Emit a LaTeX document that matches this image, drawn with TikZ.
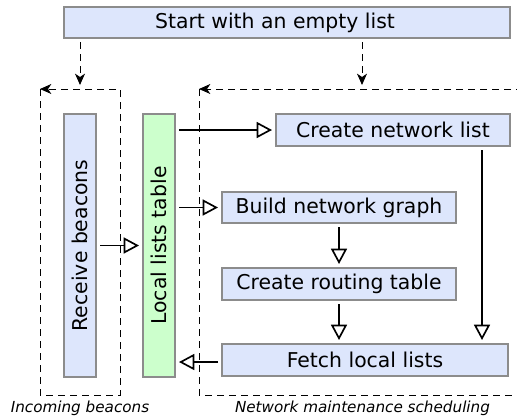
\documentclass[tikz,border=0pt]{standalone}
\usepackage{fontspec}
\setmainfont{DejaVu Sans}
\usetikzlibrary{arrows.meta,calc}
\definecolor{boxblue}{HTML}{DDE6FC}
\definecolor{boxgreen}{HTML}{CCFFCC}
\definecolor{boxborder}{HTML}{8C8C8C}
\begin{document}
\begin{tikzpicture}[x=0.75pt,y=-0.75pt,
  box/.style={draw=boxborder,line width=0.8pt,fill=boxblue,inner sep=0pt,outer sep=3pt,
    font=\fontsize{15.3}{18}\selectfont,text=black},
  gbox/.style={box,fill=boxgreen},
  flow/.style={line width=1.25pt,-{Triangle[open,length=11.5pt,width=12pt]}},
  dflow/.style={line width=0.75pt,dash pattern=on 5pt off 4pt,-{Stealth[length=8.5pt,width=7.5pt,inset=2.5pt]}},
  grp/.style={line width=0.75pt,dash pattern=on 5pt off 4pt,-{Stealth[length=8.5pt,width=7.5pt,inset=2.5pt]}},
  lbl/.style={font=\fontsize{11.4}{13}\selectfont\itshape,text=black}]
\useasboundingbox (0,0) rectangle (517,419);
% group frames
\coordinate (ltl) at (40,89);
\coordinate (ltr) at (120,89);
\coordinate (lbl) at (40,395);
\coordinate (lbr) at (120,395);
\coordinate (rtl) at (199,89);
\coordinate (rtr) at (535,89);
\coordinate (rbl) at (199,395);
\coordinate (rbr) at (535,395);
\coordinate (rmid) at (362,89);
\draw[grp] (ltl) -- (lbl) -- (lbr) -- (ltr) -- (ltl);
\draw[grp] (rtl) -- (rbl) -- (rbr) -- (rtr) -- (rtl);
% boxes
\node[box,minimum width=446*0.75pt,minimum height=31*0.75pt] (top) at (287,22.5) {\hspace*{-18pt}Start with an empty list};
\node[box,minimum width=32*0.75pt,minimum height=263*0.75pt] (recv) at (80,245.5) {\rotatebox{90}{Receive beacons}};
\node[gbox,minimum width=32*0.75pt,minimum height=263*0.75pt] (local) at (159,245.5) {\rotatebox{90}{Local lists table}};
\node[box,minimum width=234*0.75pt,minimum height=32*0.75pt] (cnl) at (393,130) {Create network list};
\node[box,minimum width=234*0.75pt,minimum height=31*0.75pt] (bng) at (339,207.5) {Build network graph};
\node[box,minimum width=234*0.75pt,minimum height=32*0.75pt] (crt) at (339,284) {Create routing table};
\node[box,minimum width=286*0.75pt,minimum height=32*0.75pt] (fll) at (365,360) {Fetch local lists};
% dashed start arrows
\draw[dflow] (top.south -| recv) -- ([yshift=3pt]ltl -| recv);
\draw[dflow] (top.south -| rmid) -- ([yshift=3pt]rmid);
% flow arrows
\draw[flow] (local.east |- cnl.west) -- (cnl.west);
\draw[flow] (local.east |- bng.west) -- (bng.west);
\draw[flow] (recv.east) -- (local.west);
\draw[flow] (bng.south) -- (crt.north);
\draw[flow] (crt.south) -- (crt.south |- fll.north);
\coordinate (cdown) at ($(cnl.south)+(89,0)$);
\draw[flow] (cdown) -- (cdown |- fll.north);
\draw[flow] ([yshift=-1.5pt]fll.west) -- ([yshift=-1.5pt]fll.west -| local.east);
% labels
\node[lbl] (lin) at (80,408) {Incoming beacons};
\node[lbl] (lnet) at (362.5,408) {Network maintenance scheduling};
\end{tikzpicture}
\end{document}
